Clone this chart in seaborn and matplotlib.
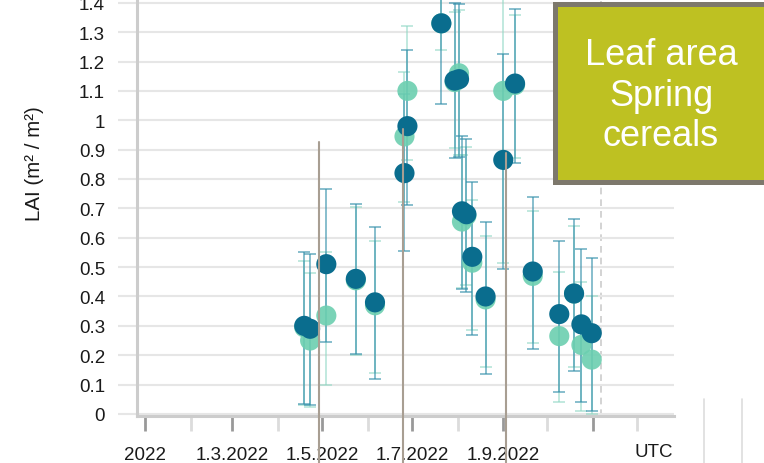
import numpy as np
import pandas as pd
import matplotlib
matplotlib.use("Agg")
import matplotlib.pyplot as plt
import matplotlib.dates as mdates
from matplotlib.patches import Rectangle
from matplotlib.lines import Line2D
import seaborn as sns

# measurement dates (2022)
dates = ["2022-04-19", "2022-04-23", "2022-05-04", "2022-05-24", "2022-06-06",
         "2022-06-26", "2022-06-28", "2022-07-21", "2022-07-30", "2022-08-02",
         "2022-08-04", "2022-08-07", "2022-08-11", "2022-08-20", "2022-09-01",
         "2022-09-09", "2022-09-21", "2022-10-09", "2022-10-19", "2022-10-24",
         "2022-10-31"]

# dark series (LAI with lower / upper bounds)
lai_dark = [0.30, 0.29, 0.51, 0.46, 0.38, 0.82, 0.98, 1.33, 1.135, 1.14,
            0.69, 0.68, 0.535, 0.40, 0.865, 1.125, 0.485, 0.34, 0.41, 0.305, 0.275]
low_dark = [0.035, 0.03, 0.245, 0.205, 0.12, 0.555, 0.71, 1.055, 0.87, 0.875,
            0.425, 0.415, 0.27, 0.135, 0.495, 0.855, 0.22, 0.075, 0.145, 0.04, 0.01]
high_dark = [0.55, 0.545, 0.765, 0.715, 0.635, 1.09, 1.24, 1.60, 1.40, 1.395,
             0.945, 0.935, 0.79, 0.655, 1.225, 1.38, 0.74, 0.59, 0.665, 0.56, 0.53]

# light series
lai_light = [0.295, 0.25, 0.335, 0.455, 0.37, 0.945, 1.10, 1.33, 1.13, 1.16,
             0.655, 0.675, 0.515, 0.39, 1.10, 1.12, 0.47, 0.265, 0.41, 0.235, 0.185]
low_light = [0.03, 0.025, 0.10, 0.20, 0.14, 0.72, 0.865, 1.24, 0.905, 0.88,
             0.43, 0.44, 0.285, 0.16, 0.515, 0.87, 0.24, 0.04, 0.16, 0.01, 0.0]
high_light = [0.52, 0.48, 0.55, 0.705, 0.59, 1.165, 1.32, 1.43, 1.37, 1.375,
              0.88, 0.91, 0.73, 0.605, 1.68, 1.36, 0.69, 0.485, 0.64, 0.45, 0.40]

# phenology markers and tick labels
event_dates = ["2022-04-29", "2022-06-25", "2022-09-03"]
event_tops = [0.925, 0.97, 0.89]
major_ticks = ["2022-01-01", "2022-03-01", "2022-05-01", "2022-07-01", "2022-09-01", "2022-11-01"]
major_labels = ["2022", "1.3.2022", "1.5.2022", "1.7.2022", "1.9.2022", ""]
minor_ticks = ["2022-02-01", "2022-04-01", "2022-06-01", "2022-08-01", "2022-10-01", "2022-12-01"]

df = pd.DataFrame({
    "date": pd.to_datetime(dates),
    "lai_dark": lai_dark, "low_dark": low_dark, "high_dark": high_dark,
    "lai_light": lai_light, "low_light": low_light, "high_light": high_light,
})

sns.set_theme(style="white")
plt.rcParams["font.family"] = ["Liberation Sans", "DejaVu Sans"]

DARK = "#0a6d8e"
LIGHT = "#6ccfb0"

fig = plt.figure(figsize=(7.64, 4.64), dpi=100)
ax = fig.add_axes([118 / 764, 47 / 464, 556 / 764, 442 / 464])

jan1 = pd.Timestamp("2022-01-01")
x_left = jan1 + pd.Timedelta(days=-18.3)
x_right = jan1 + pd.Timedelta(days=358.8)
x_spine = jan1 + pd.Timedelta(days=-5.4)

# error bars
ax.errorbar(df["date"], df["lai_light"],
            yerr=[df["lai_light"] - df["low_light"], df["high_light"] - df["lai_light"]],
            fmt="none", ecolor="#8fd8c4", elinewidth=1.1, capsize=4.5, capthick=1.1,
            alpha=0.7, zorder=2)
ax.errorbar(df["date"], df["lai_dark"],
            yerr=[df["lai_dark"] - df["low_dark"], df["high_dark"] - df["lai_dark"]],
            fmt="none", ecolor="#3590ab", elinewidth=1.1, capsize=4.5, capthick=1.1,
            alpha=0.75, zorder=2.5)

# points
sns.scatterplot(data=df, x="date", y="lai_light", color=LIGHT, s=210,
                edgecolor="none", alpha=0.9, ax=ax, zorder=3)
sns.scatterplot(data=df, x="date", y="lai_dark", color=DARK, s=210,
                edgecolor="none", ax=ax, zorder=4)

# phenology lines
for d, top in zip(event_dates, event_tops):
    d = pd.Timestamp(d)
    ax.plot([d, d], [-0.2, top], color="#a89e92", lw=1.5, clip_on=False, zorder=5)

# dashed "now" line
ax.axvline(pd.Timestamp("2022-11-06"), color="#cccccc", ls=(0, (4, 3)), lw=1.2, zorder=0.5)

ax.set_xlim(x_left, x_right)
ax.set_ylim(-0.007, 1.498)

yt = np.round(np.arange(0, 1.45, 0.1), 1)
ax.set_yticks(yt)
ax.set_yticklabels([f"{v:g}" for v in yt])
ax.yaxis.grid(True, color="#e6e6e6", lw=1.5)
ax.set_axisbelow(True)

ax.set_xticks(pd.to_datetime(major_ticks))
ax.set_xticklabels(major_labels)
ax.set_xticks(pd.to_datetime(minor_ticks), minor=True)

ax.tick_params(axis="y", length=0, pad=23, labelsize=13.5, labelcolor="#1a1a1a")
ax.tick_params(axis="x", which="both", bottom=True, direction="out")
ax.tick_params(axis="x", which="major", length=11, width=2, color="#999999",
               pad=10.5, labelsize=13.5, labelcolor="#1a1a1a")
ax.tick_params(axis="x", which="minor", length=11, width=2, color="#dcdcdc")

for s in ["top", "right"]:
    ax.spines[s].set_visible(False)
ax.spines["left"].set_position(("axes", 19 / 556))
ax.spines["left"].set_color("#cccccc")
ax.spines["left"].set_linewidth(2.2)
ax.spines["bottom"].set_color("#cccccc")
ax.spines["bottom"].set_linewidth(2.2)
ax.spines["bottom"].set_bounds(mdates.date2num(x_spine), mdates.date2num(x_right))

ax.set_xlabel("")
ax.set_ylabel("")
fig.text(35 / 764, 1 - 164 / 464, "LAI (m² / m²)", rotation=90, ha="center",
         va="center", fontsize=14.8, color="#1a1a1a")
fig.text(654 / 764, 1 - 453 / 464, "UTC", ha="center", va="center",
         fontsize=13.5, color="#1a1a1a")

# title box
box = Rectangle((554.5 / 764, 1 - 182.5 / 464), 240 / 764, 178 / 464,
                transform=fig.transFigure, facecolor="#bec122",
                edgecolor="#7d786c", lw=3.6, zorder=10)
fig.add_artist(box)
fig.text(661 / 764, 1 - 96 / 464, "Leaf area\nSpring\ncereals", color="white",
         fontsize=26, ha="center", va="center", linespacing=1.22, zorder=11)

# stray separators at bottom right
for px in [704, 742]:
    fig.add_artist(Line2D([px / 764, px / 764], [0, 64 / 464], color="#dddddd", lw=1.2))

fig.savefig("out.png", dpi=100)
